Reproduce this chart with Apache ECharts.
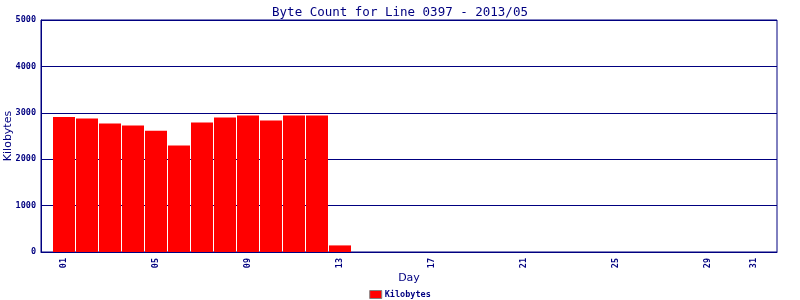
<!DOCTYPE html>
<html><head><meta charset="utf-8">
<script src="https://cdn.jsdelivr.net/npm/echarts@6/dist/echarts.min.js"></script>
<style>html,body{margin:0;padding:0;background:#fff}#c{width:800px;height:300px}</style>
</head><body><div id="c"></div>
<script>
// Categories: padded slots at both ends, days 01..31 at 1..31
var dayLabels = ['', '01','02','03','04','05','06','07','08','09','10','11','12','13','14','15','16','17','18','19','20','21','22','23','24','25','26','27','28','29','30','31', ' '];
var shownLabels = ['01','05','09','13','17','21','25','29','31'];
var kilobytes = [null, 2912, 2876, 2768, 2725, 2611, 2294, 2790, 2897, 2940, 2833, 2940, 2940, 142,
  null,null,null,null,null,null,null,null,null,null,null,null,null,null,null,null,null,null, null];
var yTicks = [0, 1000, 2000, 3000, 4000, 5000];

var navy = '#000080';
var chart = echarts.init(document.getElementById('c'), null, {renderer: 'canvas'});
chart.setOption({
  animation: false,
  backgroundColor: '#fff',
  title: {
    text: 'Byte Count for Line 0397 - 2013/05',
    left: 'center', top: 1,
    textStyle: {color: navy, fontFamily: 'DejaVu Sans Mono', fontSize: 12.5, fontWeight: 'normal'}
  },
  legend: {
    bottom: 1, left: 'center', padding: 0,
    itemWidth: 12, itemHeight: 8, itemGap: 4,
    textStyle: {color: navy, fontFamily: 'DejaVu Sans Mono', fontSize: 8.5, fontWeight: 'bold', padding: [0,0,0,-2]},
    data: [{name: 'Kilobytes', icon: 'rect', itemStyle: {color: '#ff0000', borderColor: '#808080', borderWidth: 1}}]
  },
  grid: {left: 41, top: 20, right: 23, bottom: 48, containLabel: false, outerBoundsMode: 'none',
    show: true, borderColor: navy, borderWidth: 1, backgroundColor: 'transparent'},
  xAxis: {
    type: 'category', data: dayLabels, boundaryGap: false,
    name: 'Day', nameLocation: 'middle', nameGap: 21, nameMoveOverlap: false,
    nameTextStyle: {color: navy, fontFamily: 'DejaVu Sans', fontSize: 11},
    axisLine: {lineStyle: {color: navy, width: 1}},
    axisTick: {show: false},
    splitLine: {show: false},
    axisLabel: {
      rotate: 90, margin: 6, color: navy, fontFamily: 'DejaVu Sans Mono', fontSize: 8.5, fontWeight: 'bold',
      interval: function (i, v) { return shownLabels.indexOf(v) >= 0; }
    }
  },
  yAxis: {
    type: 'value', min: yTicks[0], max: yTicks[yTicks.length-1], interval: 1000,
    name: 'Kilobytes', nameLocation: 'middle', nameGap: 27, nameMoveOverlap: false,
    nameTextStyle: {color: navy, fontFamily: 'DejaVu Sans', fontSize: 11},
    axisLine: {show: true, lineStyle: {color: navy, width: 1}},
    axisTick: {show: false},
    splitLine: {lineStyle: {color: navy, width: 1}},
    axisLabel: {color: navy, fontFamily: 'DejaVu Sans Mono', fontSize: 8.5, fontWeight: 'bold', margin: 5,
      formatter: function (v) { return String(v); }}
  },
  series: [{
    name: 'Kilobytes', type: 'bar', data: kilobytes, barWidth: 22,
    itemStyle: {color: '#ff0000'}
  }]
});
</script></body></html>
